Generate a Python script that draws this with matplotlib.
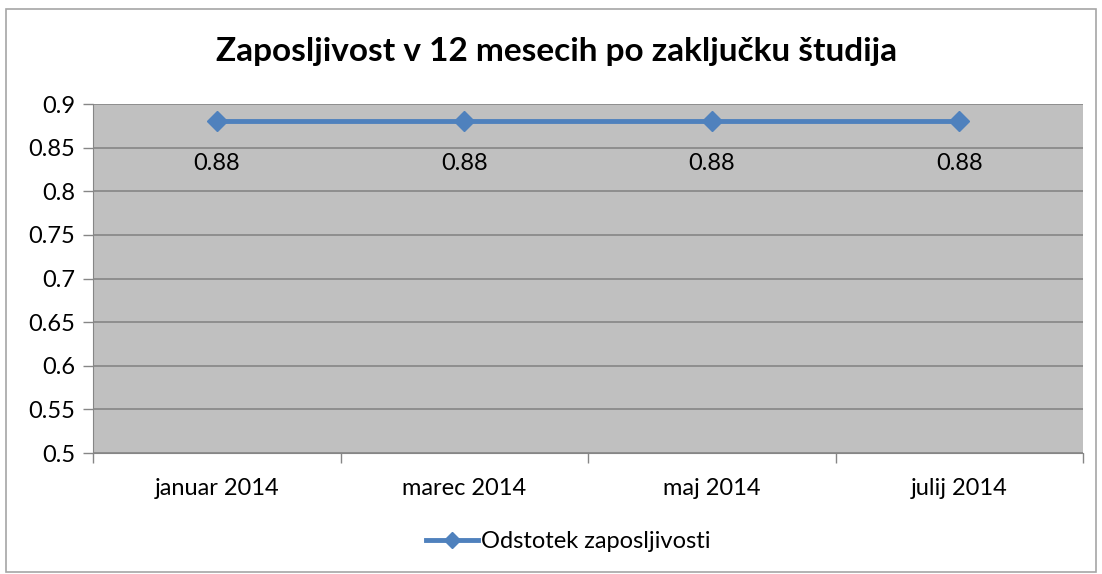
import numpy as np
import matplotlib.pyplot as plt
from matplotlib.patches import Rectangle

# === Data ===
months = ["januar 2014", "marec 2014", "maj 2014", "julij 2014"]
employability = [0.88, 0.88, 0.88, 0.88]
y_ticks = [0.5, 0.55, 0.6, 0.65, 0.7, 0.75, 0.8, 0.85, 0.9]

plt.rcParams['font.family'] = ['Lato', 'DejaVu Sans']

fig = plt.figure(figsize=(11.02, 5.74), dpi=100)
ax = fig.add_axes([0.0844, 0.2108, 0.8984, 0.608])

# chart outer frame
fig.patches.append(Rectangle((6 / 1102, 2 / 574), 1090 / 1102, 563 / 574,
                             transform=fig.transFigure, fill=False,
                             edgecolor="#a6a6a6", linewidth=1.2))

x = np.arange(len(months))
ax.set_facecolor("#c0c0c0")
ax.plot(x, employability, color="#4f81bd", linewidth=3.5, marker="D",
        markersize=10, label="Odstotek zaposljivosti", zorder=3)

for xi, v in zip(x, employability):
    ax.annotate(f"{v:g}", (xi, v), xytext=(0, -23), textcoords="offset points",
                ha="center", va="top", fontsize=17)

ax.set_xlim(-0.5, len(months) - 0.5)
ax.set_ylim(0.5, 0.9)
ax.set_yticks(y_ticks)
ax.set_yticklabels([f"{t:g}" for t in y_ticks], fontsize=17)
ax.set_xticks(x)
ax.set_xticklabels(months, fontsize=17)
ax.tick_params(axis="x", length=0, pad=18)
ax.tick_params(axis="y", length=7, width=1, color="#868686", pad=6)

# category boundary ticks
ax.set_xticks(np.arange(-0.5, len(months)), minor=True)
ax.tick_params(axis="x", which="minor", length=7, width=1, color="#868686")

ax.grid(axis="y", color="#868686", linewidth=1.2)
ax.set_axisbelow(True)
for s in ["top", "right"]:
    ax.spines[s].set_visible(False)
ax.spines["left"].set_color("#868686")
ax.spines["bottom"].set_color("#868686")

fig.text(0.505, 0.91, "Zaposljivost v 12 mesecih po zaključku študija",
         ha="center", va="center", fontsize=24, fontweight="bold")

ax.legend(loc="center", bbox_to_anchor=(0.48, -0.255), frameon=False,
          fontsize=17, handlelength=2.2, handletextpad=0.1, markerscale=0.85)

fig.savefig("out.png", dpi=100)
